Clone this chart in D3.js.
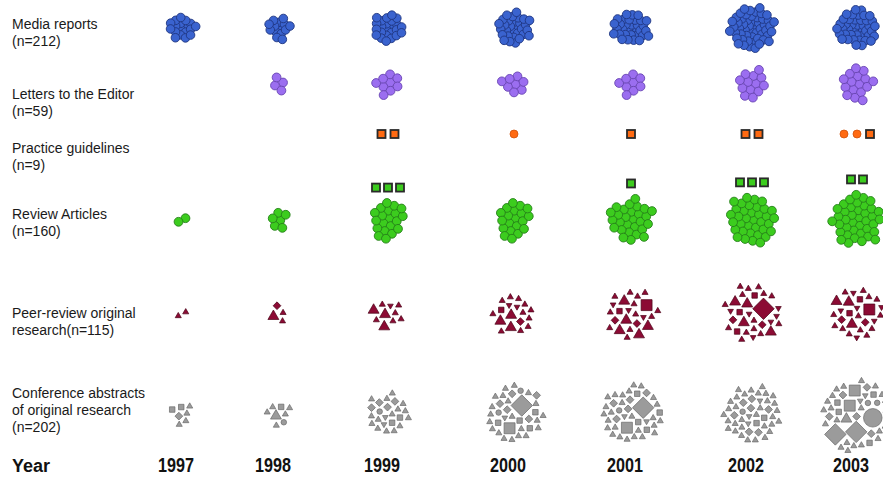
<!DOCTYPE html>
<html>
<head>
<meta charset="utf-8">
<script src="https://cdn.jsdelivr.net/npm/d3@7"></script>
<style>
  body { margin: 0; background: #fff; }
  svg { display: block; }
</style>
</head>
<body>
<svg id="chart" width="883" height="477"></svg>
<script>
// ---- data -------------------------------------------------------------
const years = [1997, 1998, 1999, 2000, 2001, 2002, 2003];

const categories = ["media", "letters", "guidelines", "review", "peer", "conference"];
const categoryLabels = [
  ["Media reports", "(n=212)"],
  ["Letters to the Editor", "(n=59)"],
  ["Practice guidelines", "(n=9)"],
  ["Review Articles", "(n=160)"],
  ["Peer-review original", "research(n=115)"],
  ["Conference abstracts", "of original research", "(n=202)"]
];

// publications per year
const mediaReports    = [18, 14, 24, 30, 32, 52, 42];
const lettersToEditor = [0, 4, 9, 8, 9, 13, 16];
const guidelinesPlain = [0, 0, 0, 1, 0, 0, 2];
const guidelinesBoxed = [0, 0, 2, 0, 1, 2, 1];
const reviewPlain     = [2, 6, 20, 20, 28, 36, 39];
const reviewBoxed     = [0, 0, 3, 0, 1, 3, 2];

// peer-review original research, by marker kind
const peerTri   = [2, 2, 6, 11, 12, 14, 13];
const peerTriL  = [0, 1, 3, 3, 5, 4, 3];
const peerDown  = [0, 0, 1, 2, 3, 6, 6];
const peerDia   = [0, 1, 0, 1, 2, 2, 2];
const peerSq    = [0, 0, 0, 1, 1, 3, 2];
const peerSqL   = [0, 0, 0, 0, 1, 0, 1];
const peerDiaXL = [0, 0, 0, 0, 0, 1, 0];

// conference abstracts, by marker kind
const confTri    = [4, 5, 15, 21, 26, 32, 22];
const confTriL   = [0, 1, 0, 0, 0, 0, 1];
const confDown   = [0, 0, 2, 1, 2, 3, 2];
const confDia    = [1, 0, 4, 5, 5, 7, 6];
const confSq     = [2, 1, 2, 4, 4, 2, 5];
const confCirc   = [0, 1, 1, 2, 1, 1, 2];
const confDiaXL  = [0, 0, 0, 1, 1, 0, 2];
const confSqL    = [0, 0, 0, 1, 1, 0, 2];
const confCircXL = [0, 0, 0, 0, 0, 0, 1];

// ---- marker kinds -----------------------------------------------------
const kinds = {
  tri:    { type: d3.symbolTriangle, size: 16,  rot: 0 },
  triL:   { type: d3.symbolTriangle, size: 52,  rot: 0 },
  down:   { type: d3.symbolTriangle, size: 14,  rot: 180 },
  dia:    { type: d3.symbolSquare,   size: 30,  rot: 45 },
  diaXL:  { type: d3.symbolSquare,   size: 230, rot: 45 },
  sq:     { type: d3.symbolSquare,   size: 30,  rot: 0 },
  sqL:    { type: d3.symbolSquare,   size: 120, rot: 0 },
  circ:   { type: d3.symbolCircle,   size: 24,  rot: 0 },
  circXL: { type: d3.symbolCircle,   size: 270, rot: 0 }
};

const peerKinds = { tri: peerTri, triL: peerTriL, down: peerDown, dia: peerDia,
                    sq: peerSq, sqL: peerSqL, diaXL: peerDiaXL };
const confKinds = { tri: confTri, triL: confTriL, down: confDown, dia: confDia,
                    sq: confSq, circ: confCirc, diaXL: confDiaXL, sqL: confSqL, circXL: confCircXL };

// ---- scales -----------------------------------------------------------
const svg = d3.select("#chart");
const x = d3.scaleOrdinal().domain(years).range([182, 279, 388, 514, 631, 752, 857]);
const y = d3.scaleOrdinal().domain(categories).range([28, 84, 134, 220, 314, 414]);

const font = "'Liberation Sans', Arial, Helvetica, sans-serif";

// settle a list of {r} items into a loose blob round the origin
function settle(items, sx, sy) {
  if (!items.length) return items;
  d3.forceSimulation(items)
    .force("collide", d3.forceCollide(d => d.r).iterations(3))
    .force("x", d3.forceX(0).strength(sx))
    .force("y", d3.forceY(0).strength(sy))
    .stop()
    .tick(300);
  const cx = d3.mean(items, d => d.x), cy = d3.mean(items, d => d.y);
  items.forEach(d => { d.x -= cx; d.y -= cy; });
  return items;
}

// ---- round-dot clusters -----------------------------------------------
const layouts = {};
function dotCluster(values, cat, packR, drawR, fill, stroke, sx, sy) {
  const g = svg.append("g");
  layouts[cat] = [];
  years.forEach((yr, i) => {
    const nodes = settle(d3.range(values[i]).map(() => ({ r: packR })), sx, sy);
    layouts[cat][i] = nodes;
    g.append("g")
      .attr("transform", `translate(${x(yr)},${y(cat)})`)
      .selectAll("circle").data(nodes).join("circle")
      .attr("cx", d => d.x)
      .attr("cy", d => d.y)
      .attr("r", drawR)
      .attr("fill", fill)
      .attr("stroke", stroke)
      .attr("stroke-width", 0.9);
  });
}

dotCluster(mediaReports, "media", 2.9, 4.3, "#3a63cf", "#1f3580", 0.08, 0.095);
dotCluster(lettersToEditor, "letters", 4.1, 4.4, "#9b6ef0", "#6844b2", 0.08, 0.08);
dotCluster(reviewPlain, "review", 3.9, 4.4, "#3ccc1e", "#26801a", 0.08, 0.08);

// boxed squares sitting in a row
function boxRow(g, count, cx, cy, fill, step) {
  const offs = d3.range(count).map(k => (k - (count - 1) / 2) * step);
  g.selectAll(null).data(offs).join("rect")
    .attr("x", d => cx + d - 4)
    .attr("y", cy - 4)
    .attr("width", 8).attr("height", 8)
    .attr("fill", fill)
    .attr("stroke", "#2a2a2a")
    .attr("stroke-width", 1.8);
}

const boxG = svg.append("g");
years.forEach((yr, i) => {
  const nodes = layouts.review[i];
  const top = y("review") + d3.min(nodes, d => d.y) - 4.4;
  boxRow(boxG, reviewBoxed[i], x(yr), top - 11, "#3ccc1e", 12);
});

// practice guidelines: plain dots followed by boxed squares in one row
years.forEach((yr, i) => {
  const nPlain = guidelinesPlain[i], nBox = guidelinesBoxed[i];
  const total = nPlain + nBox;
  const step = 13;
  d3.range(total).forEach(k => {
    const px = x(yr) + (k - (total - 1) / 2) * step;
    if (k < nPlain) {
      boxG.append("circle").attr("cx", px).attr("cy", y("guidelines"))
        .attr("r", 4).attr("fill", "#ff6a12").attr("stroke", "#d0500a").attr("stroke-width", 0.8);
    } else {
      boxG.append("rect").attr("x", px - 4).attr("y", y("guidelines") - 4)
        .attr("width", 8).attr("height", 8)
        .attr("fill", "#ff6a12").attr("stroke", "#2a2a2a").attr("stroke-width", 1.8);
    }
  });
});

// ---- mixed-symbol clusters --------------------------------------------
function symbolCluster(kindCounts, cat, fill, stroke, pad) {
  const g = svg.append("g");
  const names = Object.keys(kindCounts);
  years.forEach((yr, i) => {
    const left = names.map(n => kindCounts[n][i]);
    const items = [];
    while (d3.sum(left) > 0) {
      names.forEach((n, j) => {
        if (left[j] > 0) {
          left[j]--;
          items.push({ kind: n, r: Math.sqrt(kinds[n].size) * 0.6 + pad });
        }
      });
    }
    settle(items, 0.08, 0.08);
    g.append("g")
      .attr("transform", `translate(${x(yr)},${y(cat)})`)
      .selectAll("path").data(items).join("path")
      .attr("transform", d => `translate(${d.x},${d.y}) rotate(${kinds[d.kind].rot})`)
      .attr("d", d => d3.symbol().type(kinds[d.kind].type).size(kinds[d.kind].size)())
      .attr("fill", fill)
      .attr("stroke", stroke)
      .attr("stroke-width", 0.7);
  });
}

symbolCluster(peerKinds, "peer", "#8c0b34", "#4a0519", 1.8);
symbolCluster(confKinds, "conference", "#9b9b9b", "#6a6a6a", 1.4);

// ---- text -------------------------------------------------------------
const labelBase = [29, 99, 153, 219, 318, 398];
categoryLabels.forEach((lines, i) => {
  const t = svg.append("text")
    .attr("x", 12).attr("y", labelBase[i])
    .attr("font-family", font).attr("font-size", 14).attr("fill", "#1a1a1a");
  lines.forEach((line, k) => {
    t.append("tspan").attr("x", 12).attr("dy", k === 0 ? 0 : 17).text(line);
  });
});

svg.append("text")
  .attr("x", 12).attr("y", 472)
  .attr("font-family", font).attr("font-size", 18).attr("font-weight", "bold")
  .attr("fill", "#111").text("Year");

svg.append("g").selectAll("text").data(years).join("text")
  .attr("x", d => x(d) - 6)
  .attr("y", 472)
  .attr("text-anchor", "middle")
  .attr("font-family", font)
  .attr("font-size", 20).attr("font-weight", "bold")
  .attr("textLength", 36).attr("lengthAdjust", "spacingAndGlyphs")
  .attr("fill", "#111")
  .text(d => d);
</script>
</body>
</html>
